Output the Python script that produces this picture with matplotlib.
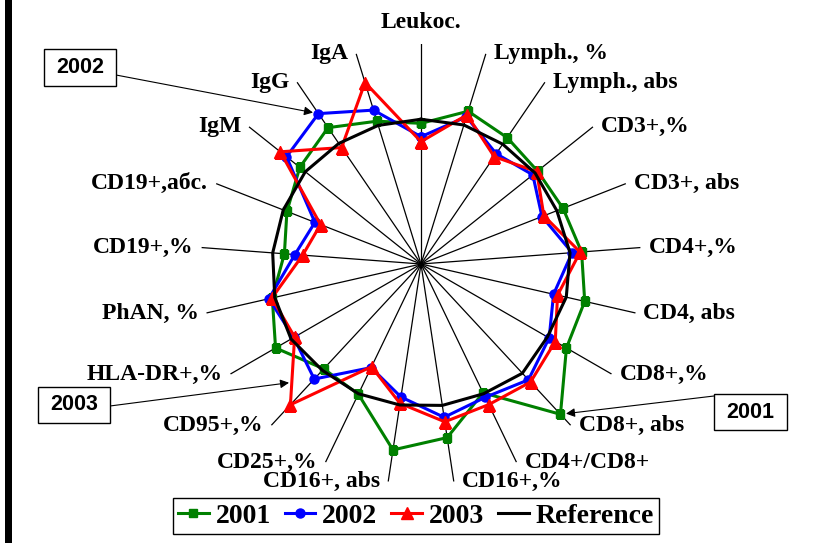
import numpy as np
import matplotlib
matplotlib.use("Agg")
import matplotlib.pyplot as plt
from matplotlib.patches import Rectangle
from matplotlib.font_manager import FontProperties

# Immune status indices, % of the reference level
categories = ["Leukoc.", "Lymph., %", "Lymph., abs", "CD3+,%", "CD3+, abs",
              "CD4+,%", "CD4, abs", "CD8+,%", "CD8+, abs", "CD4+/CD8+",
              "CD16+,%", "CD16+, abs", "CD25+,%", "CD95+,%", "HLA-DR+,%",
              "PhAN, %", "CD19+,%", "CD19+,абс.", "IgM", "IgG", "IgA"]
y2001 = [95.9, 109.0, 104.3, 101.6, 104.0, 109.8, 114.5, 114.5, 139.8, 97.5,
         119.7, 128.2, 98.5, 97.5, 114.5, 104.0, 93.4, 98.2, 105.7, 112.5, 101.9]
y2002 = [86.8, 105.0, 91.0, 97.5, 88.6, 103.3, 92.7, 100.9, 107.7, 100.9,
         105.7, 91.7, 78.4, 107.0, 100.2, 106.4, 86.2, 77.7, 117.3, 124.1, 109.8]
y2003 = [83.4, 106.4, 88.6, 100.9, 90.0, 108.8, 95.5, 105.7, 109.8, 106.4,
         108.8, 96.1, 77.7, 130.9, 99.5, 104.3, 80.9, 73.6, 122.7, 96.1, 129.5]
reference = [98.7, 99.2, 98.9, 99.5, 99.5, 101.9, 101.6, 99.5, 101.6, 98.2,
             97.5, 97.2, 98.2, 98.9, 102.3, 102.3, 101.4, 100.9, 100.9, 99.5, 98.9]
series_names = ["2001", "2002", "2003", "Reference"]
r_max = 150

W, H = 814, 543
fig = plt.figure(figsize=(W / 100, H / 100), dpi=100)
fig.patch.set_facecolor("white")


def fx(x):
    return x / W


def fy(y):
    return 1 - y / H


serif_bold = dict(family="Liberation Serif", weight="bold")

# polar area: centre and radius in figure pixels
R = 220
cx, cy = 421, 264
ax = fig.add_axes([fx(cx - R), fy(cy + R), 2 * R / W, 2 * R / H], projection="polar")
ax.set_theta_zero_location("N")
ax.set_theta_direction(-1)
n = len(categories)
theta = np.arange(n) * 2 * np.pi / n
ax.set_xticks(theta)
ax.set_xticklabels([])
ax.set_yticks([])
ax.set_ylim(0, r_max)
ax.spines["polar"].set_visible(False)
ax.xaxis.grid(True, color="black", lw=0.9)
ax.tick_params(length=0)
ax.patch.set_alpha(0)

th = np.append(theta, theta[0])


def closed(v):
    return np.append(v, v[0])


styles = [
    dict(color="#008000", marker="s", ms=6),
    dict(color="#0000FF", marker="o", ms=6.5),
    dict(color="#FF0000", marker="^", ms=8),
    dict(color="black", marker=None),
]
handles = []
for vals, name, st in zip([y2001, y2002, y2003, reference], series_names, styles):
    h, = ax.plot(th, closed(vals), lw=2.2, label=name, **st)
    handles.append(h)

# category labels at the outer end of each spoke
for t, lab in zip(theta, categories):
    s = np.sin(t)
    if abs(s) < 1e-6:
        ha, off = "center", (0, 22)
    elif s > 0:
        ha, off = "left", (8, 0)
    else:
        ha, off = "right", (-8, 0)
    ax.annotate(lab, xy=(t, r_max), xytext=off, textcoords="offset pixels",
                ha=ha, va="center", fontsize=17, annotation_clip=False, **serif_bold)


# year call-out boxes
def callout(text, x0, y0, x1, y1):
    fig.add_artist(Rectangle((fx(x0), fy(y1)), (x1 - x0) / W, (y1 - y0) / H,
                             transform=fig.transFigure, facecolor="white",
                             edgecolor="black", lw=1.0, zorder=5))
    fig.text(fx((x0 + x1) / 2), fy((y0 + y1) / 2), text, ha="center", va="center",
             fontsize=15.5, family="Liberation Sans", weight="bold", zorder=6)


arrow = dict(arrowstyle="-|>", color="black", lw=0.8, mutation_scale=13,
             shrinkA=0, shrinkB=4)

callout("2002", 44, 49, 116, 86)
ax.annotate("", xy=(theta[19], y2002[19]), xycoords="data",
            xytext=(fx(116), fy(75)), textcoords="figure fraction",
            arrowprops=arrow, annotation_clip=False)

callout("2001", 714, 394, 787, 430)
ax.annotate("", xy=(theta[8], y2001[8]), xycoords="data",
            xytext=(fx(714), fy(396)), textcoords="figure fraction",
            arrowprops=arrow, annotation_clip=False)

callout("2003", 38, 387, 110, 423)
p_a = ax.transData.transform((theta[14], y2003[14]))
p_b = ax.transData.transform((theta[13], y2003[13]))
tip = p_a + 0.67 * (p_b - p_a)
ax.annotate("", xy=tuple(tip), xycoords="figure pixels",
            xytext=(fx(110), fy(406)), textcoords="figure fraction",
            arrowprops=dict(arrow, shrinkB=2), annotation_clip=False)

# left border bar
fig.add_artist(Rectangle((fx(5), 0), 7 / W, 1, transform=fig.transFigure,
                         facecolor="black", edgecolor="none"))

leg = fig.legend(handles=handles, loc="center", bbox_to_anchor=(fx(416), fy(516)),
                 ncol=4, prop=FontProperties(size=20, **serif_bold),
                 frameon=True, fancybox=False, edgecolor="black", framealpha=1,
                 handlelength=1.1, handletextpad=0.25, columnspacing=0.5,
                 borderpad=0.2, borderaxespad=0)
leg.get_frame().set_linewidth(1.0)

fig.savefig("out.png", dpi=100)
